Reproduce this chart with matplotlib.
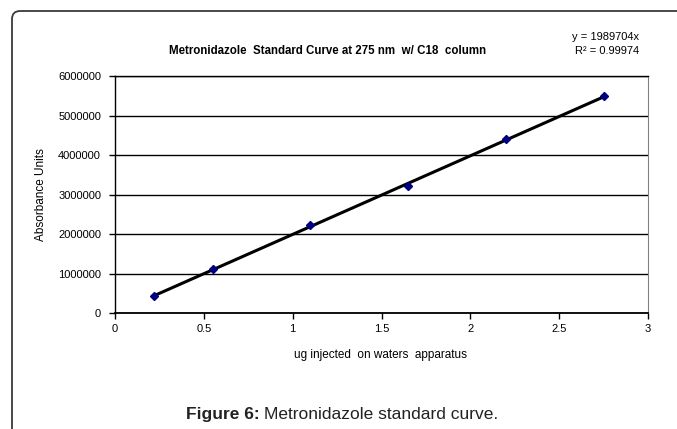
import matplotlib
matplotlib.use("Agg")
import matplotlib.pyplot as plt
from matplotlib.patches import FancyBboxPatch
from matplotlib.ticker import FixedLocator, FuncFormatter

plt.rcParams['font.family'] = ['Liberation Sans', 'DejaVu Sans']

# data
ug = [0.22, 0.55, 1.1, 1.65, 2.2, 2.75]
absorbance = [437000, 1110000, 2230000, 3225000, 4395000, 5490000]
slope = 1989704
x_ticks = [0, 0.5, 1, 1.5, 2, 2.5, 3]
y_ticks = [0, 1000000, 2000000, 3000000, 4000000, 5000000, 6000000]

W, H = 677, 429
fig = plt.figure(figsize=(W / 100, H / 100), dpi=100)

# outer rounded frame (cut off on the right and bottom)
box = FancyBboxPatch((12 / W, -0.1), 1.2, 1 - 11 / H + 0.1,
                     boxstyle="round,pad=0,rounding_size=0.012",
                     mutation_aspect=W / H,
                     transform=fig.transFigure, fill=False,
                     edgecolor='#3a3a3a', lw=1.3)
fig.patches.append(box)

ax = fig.add_axes([115 / W, 1 - 313 / H, (648 - 115) / W, (313 - 76) / H])

# trendline over data range
x0, x1 = min(ug), max(ug)
ax.plot([x0, x1], [slope * x0, slope * x1], color='black', lw=2.2, zorder=2)
ax.plot(ug, absorbance, linestyle='none', marker='D', markersize=4.5,
        color='#000080', zorder=3)

ax.set_xlim(0, 3)
ax.set_ylim(0, 6000000)
ax.xaxis.set_major_locator(FixedLocator(x_ticks))
ax.yaxis.set_major_locator(FixedLocator(y_ticks))
ax.xaxis.set_major_formatter(FuncFormatter(lambda v, p: f"{v:g}"))
ax.yaxis.set_major_formatter(FuncFormatter(lambda v, p: f"{int(v)}"))
ax.tick_params(axis='both', labelsize=8, direction='out', length=4,
               width=1, color='black')
ax.tick_params(axis='y', pad=6)
ax.tick_params(axis='x', pad=4)

ax.grid(axis='y', color='black', lw=1)
ax.set_axisbelow(True)
for side in ['left', 'bottom', 'top']:
    ax.spines[side].set_color('black')
    ax.spines[side].set_linewidth(1)
ax.spines['bottom'].set_linewidth(1.3)
ax.spines['right'].set_color('#808080')

fig.text(328 / W, 1 - 51 / H,
         "Metronidazole  Standard Curve at 275 nm  w/ C18  column",
         ha='center', va='center', fontsize=8.3, fontweight='bold')
fig.text(639 / W, 1 - 37 / H, "y = 1989704x", ha='right', va='center',
         fontsize=8)
fig.text(639 / W, 1 - 51 / H, "R\u00b2 = 0.99974", ha='right', va='center',
         fontsize=8)

fig.text(41 / W, 1 - 195 / H, "Absorbance Units", rotation=90,
         ha='center', va='center', fontsize=8.5)
fig.text(381 / W, 1 - 358 / H, "ug injected  on waters  apparatus",
         ha='center', va='baseline', fontsize=8.5)

cap_x = 186 / W
t = fig.text(cap_x, 1 - 419 / H, "Figure 6:", ha='left', va='baseline',
             fontsize=12.5, fontweight='bold', color='#222222')
fig.canvas.draw()
bb = t.get_window_extent()
fig.text((bb.x1 + 4) / W, 1 - 419 / H, "Metronidazole standard curve.",
         ha='left', va='baseline', fontsize=12.5, color='#222222')

fig.savefig("out.png", dpi=100)
